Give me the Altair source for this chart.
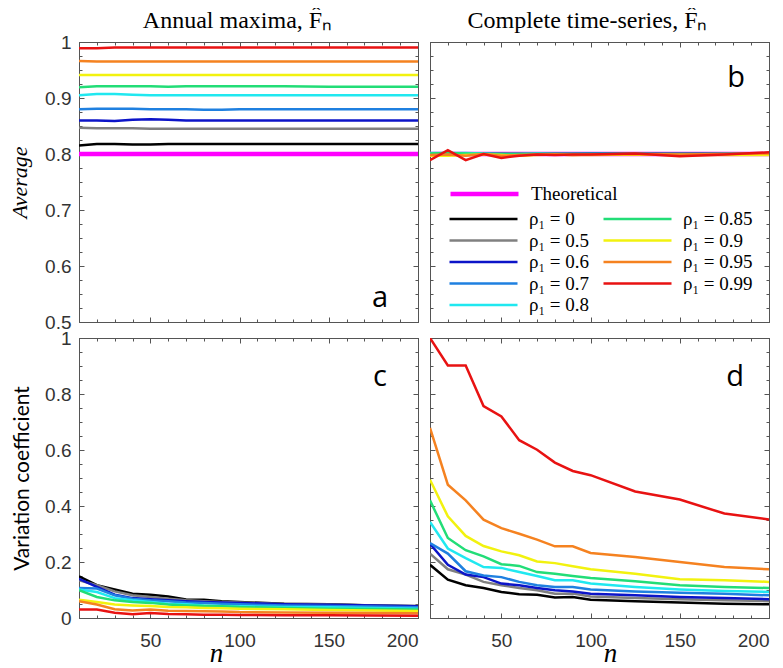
import altair as alt
import pandas as pd

# ---------------- data ----------------
n_values = [10, 20, 30, 40, 50, 60, 70, 80, 90, 100, 125, 150, 175, 200]

series_names = ["Theoretical", "ρ₁ = 0", "ρ₁ = 0.5", "ρ₁ = 0.6", "ρ₁ = 0.7",
                "ρ₁ = 0.8", "ρ₁ = 0.85", "ρ₁ = 0.9", "ρ₁ = 0.95", "ρ₁ = 0.99"]
series_colors = ["#ff00ff", "#000000", "#808080", "#0c14c8", "#1f80e0",
                 "#20e8f0", "#22dd77", "#f2f20f", "#f58220", "#e81212"]

column_titles = ["Annual maxima, F̂ₙ", "Complete time-series, F̂ₙ"]
panel_letters = ["a", "b", "c", "d"]

# (a) Annual maxima, average
avg_annual = [
    [0.800, 0.800, 0.800, 0.800, 0.800, 0.800, 0.800, 0.800, 0.800, 0.800, 0.800, 0.800, 0.800, 0.800],
    [0.815, 0.818, 0.818, 0.817, 0.817, 0.818, 0.818, 0.818, 0.818, 0.818, 0.818, 0.818, 0.818, 0.818],
    [0.847, 0.846, 0.846, 0.846, 0.845, 0.845, 0.845, 0.845, 0.845, 0.845, 0.845, 0.845, 0.845, 0.845],
    [0.860, 0.860, 0.859, 0.861, 0.862, 0.861, 0.860, 0.860, 0.860, 0.860, 0.860, 0.860, 0.860, 0.860],
    [0.880, 0.881, 0.881, 0.881, 0.880, 0.880, 0.880, 0.879, 0.879, 0.880, 0.880, 0.880, 0.880, 0.880],
    [0.905, 0.907, 0.907, 0.906, 0.905, 0.905, 0.905, 0.905, 0.905, 0.905, 0.905, 0.905, 0.905, 0.905],
    [0.919, 0.921, 0.921, 0.921, 0.921, 0.920, 0.921, 0.921, 0.921, 0.921, 0.921, 0.920, 0.920, 0.920],
    [0.941, 0.941, 0.941, 0.941, 0.941, 0.941, 0.941, 0.941, 0.941, 0.941, 0.941, 0.941, 0.941, 0.941],
    [0.966, 0.965, 0.965, 0.965, 0.965, 0.965, 0.965, 0.965, 0.965, 0.965, 0.965, 0.965, 0.965, 0.965],
    [0.989, 0.989, 0.990, 0.990, 0.990, 0.990, 0.990, 0.990, 0.990, 0.990, 0.990, 0.990, 0.990, 0.990],
]

# (b) Complete time-series, average
avg_complete = [
    [0.800, 0.800, 0.800, 0.800, 0.800, 0.800, 0.800, 0.800, 0.800, 0.800, 0.800, 0.800, 0.800, 0.800],
    [0.800, 0.800, 0.799, 0.800, 0.800, 0.800, 0.800, 0.800, 0.800, 0.800, 0.800, 0.800, 0.800, 0.800],
    [0.801, 0.800, 0.800, 0.799, 0.800, 0.800, 0.800, 0.800, 0.799, 0.800, 0.800, 0.800, 0.800, 0.800],
    [0.800, 0.801, 0.800, 0.801, 0.800, 0.799, 0.800, 0.800, 0.800, 0.801, 0.800, 0.800, 0.800, 0.800],
    [0.801, 0.800, 0.801, 0.800, 0.799, 0.800, 0.800, 0.800, 0.800, 0.800, 0.800, 0.800, 0.800, 0.800],
    [0.802, 0.802, 0.802, 0.801, 0.800, 0.800, 0.801, 0.800, 0.800, 0.800, 0.800, 0.799, 0.800, 0.800],
    [0.801, 0.802, 0.801, 0.800, 0.800, 0.800, 0.800, 0.800, 0.800, 0.800, 0.800, 0.800, 0.800, 0.800],
    [0.797, 0.797, 0.798, 0.799, 0.798, 0.797, 0.798, 0.799, 0.798, 0.798, 0.799, 0.798, 0.798, 0.798],
    [0.798, 0.799, 0.797, 0.800, 0.797, 0.798, 0.799, 0.799, 0.798, 0.799, 0.800, 0.799, 0.800, 0.801],
    [0.789, 0.807, 0.789, 0.800, 0.793, 0.797, 0.799, 0.798, 0.799, 0.799, 0.801, 0.796, 0.799, 0.803],
]

# (c) Annual maxima, variation coefficient (rho series only)
cv_annual = [
    [0.149, 0.117, 0.102, 0.087, 0.083, 0.077, 0.066, 0.065, 0.060, 0.057, 0.051, 0.049, 0.045, 0.042],
    [0.135, 0.117, 0.095, 0.081, 0.075, 0.069, 0.063, 0.060, 0.057, 0.055, 0.050, 0.048, 0.045, 0.043],
    [0.140, 0.111, 0.083, 0.071, 0.067, 0.063, 0.060, 0.057, 0.055, 0.054, 0.049, 0.047, 0.045, 0.042],
    [0.107, 0.105, 0.081, 0.069, 0.063, 0.060, 0.055, 0.054, 0.051, 0.049, 0.045, 0.043, 0.041, 0.038],
    [0.102, 0.093, 0.071, 0.063, 0.057, 0.051, 0.049, 0.045, 0.043, 0.042, 0.039, 0.038, 0.036, 0.033],
    [0.099, 0.075, 0.063, 0.057, 0.054, 0.048, 0.045, 0.043, 0.042, 0.039, 0.036, 0.033, 0.032, 0.030],
    [0.065, 0.057, 0.048, 0.045, 0.043, 0.039, 0.038, 0.036, 0.035, 0.033, 0.031, 0.029, 0.027, 0.025],
    [0.060, 0.048, 0.031, 0.027, 0.030, 0.026, 0.025, 0.024, 0.023, 0.021, 0.020, 0.019, 0.018, 0.017],
    [0.030, 0.030, 0.019, 0.013, 0.018, 0.014, 0.013, 0.012, 0.012, 0.011, 0.010, 0.010, 0.009, 0.008],
]

# (d) Complete time-series, variation coefficient
cv_complete = [
    [0.190, 0.137, 0.117, 0.107, 0.093, 0.085, 0.083, 0.073, 0.075, 0.065, 0.060, 0.055, 0.051, 0.049],
    [0.230, 0.174, 0.155, 0.129, 0.117, 0.107, 0.099, 0.087, 0.087, 0.077, 0.071, 0.067, 0.063, 0.060],
    [0.265, 0.190, 0.155, 0.146, 0.123, 0.117, 0.107, 0.099, 0.095, 0.087, 0.081, 0.075, 0.071, 0.067],
    [0.268, 0.230, 0.167, 0.152, 0.146, 0.129, 0.117, 0.111, 0.111, 0.102, 0.095, 0.090, 0.087, 0.081],
    [0.343, 0.248, 0.214, 0.182, 0.179, 0.164, 0.150, 0.135, 0.135, 0.123, 0.111, 0.102, 0.096, 0.093],
    [0.420, 0.286, 0.242, 0.220, 0.192, 0.186, 0.164, 0.158, 0.150, 0.143, 0.131, 0.117, 0.111, 0.107],
    [0.494, 0.363, 0.293, 0.257, 0.238, 0.224, 0.202, 0.196, 0.185, 0.174, 0.158, 0.138, 0.135, 0.129],
    [0.679, 0.476, 0.420, 0.351, 0.321, 0.301, 0.280, 0.256, 0.256, 0.232, 0.218, 0.200, 0.182, 0.174],
    [1.000, 0.902, 0.902, 0.757, 0.720, 0.635, 0.601, 0.555, 0.525, 0.510, 0.452, 0.423, 0.373, 0.352],
]

legend_order = ["ρ₁ = 0", "ρ₁ = 0.5", "ρ₁ = 0.6", "ρ₁ = 0.7", "ρ₁ = 0.8",
                "ρ₁ = 0.85", "ρ₁ = 0.9", "ρ₁ = 0.95", "ρ₁ = 0.99"]


def to_frame(rows, names):
    recs = []
    for name, vals in zip(names, rows):
        kind = "Theoretical" if name == "Theoretical" else "Simulated"
        for n, v in zip(n_values, vals):
            recs.append({"series": name, "kind": kind, "n": n, "v": v})
    return pd.DataFrame(recs)


df_a = to_frame(avg_annual, series_names)
df_b = to_frame(avg_complete, series_names)
df_c = to_frame(cv_annual, series_names[1:])
df_d = to_frame(cv_complete, series_names[1:])

# ---------------- styling ----------------
W, H = 339, 280
TICK = "#555555"
MAJ, MIN = 5, 3
x_major = [50, 100, 150, 200]
x_minor = list(range(10, 201, 10))


def axis(orient, values, size, labels=False, fmt=None, title=None, pad=8,
         title_kw=None):
    p = dict(orient=orient, values=values, tickSize=size, offset=-size,
             domain=False, grid=False, ticks=True, tickColor=TICK,
             tickWidth=1, labels=labels, title=title)
    if labels:
        p.update(labelFont="Liberation Sans", labelFontSize=19,
                 labelColor="#333333", labelPadding=pad, labelOverlap=False)
        if fmt:
            p["format"] = fmt
    if title_kw:
        p.update(title_kw)
    return alt.Axis(**p)


def panel(df, ydom, ymaj, ymin, xlabels, ylabels, letter, lx, ly,
          ytitle=None, ytitle_kw=None, col_title=None, title_x=0,
          legend=False, ntitle_x=170):
    xs = alt.Scale(domain=[10, 200], nice=False, zero=False)
    ys = alt.Scale(domain=ydom, nice=False, zero=False)
    base = alt.Chart(df)

    xt = "n" if xlabels else None
    xkw = dict(titleFont="Liberation Serif", titleFontStyle="italic",
               titleFontSize=27, titleFontWeight="normal", titleColor="black",
               titleBaseline="alphabetic", titleAlign="center",
               titleX=ntitle_x, titleY=48) if xlabels else None

    if legend:
        col_legend = alt.Legend(
            values=legend_order, columns=2, orient="none", legendX=18,
            legendY=167, symbolType="stroke", symbolSize=4624,
            symbolStrokeWidth=2.5, labelFont="Liberation Serif",
            labelFontSize=19, labelColor="black", labelOffset=10,
            clipHeight=20, rowPadding=1.5, columnPadding=12, padding=0,
            title=None)
        sw_legend = alt.Legend(
            values=["Theoretical"], orient="none", legendX=18, legendY=142,
            symbolType="stroke", symbolSize=4624, symbolStrokeColor="#ff00ff",
            labelFont="Liberation Serif", labelFontSize=19,
            labelColor="black", labelOffset=10, clipHeight=20, padding=0,
            title=None)
    else:
        col_legend = None
        sw_legend = None

    lines = base.mark_line(clip=True).encode(
        x=alt.X("n:Q", scale=xs,
                axis=axis("bottom", x_major, MAJ, labels=xlabels, title=xt,
                          pad=13, title_kw=xkw)),
        y=alt.Y("v:Q", scale=ys,
                axis=axis("left", ymaj, MAJ, labels=ylabels, fmt=".1~f",
                          title=ytitle, pad=8, title_kw=ytitle_kw)),
        color=alt.Color("series:N",
                        scale=alt.Scale(domain=series_names, range=series_colors),
                        legend=col_legend),
        strokeWidth=alt.StrokeWidth(
            "kind:N",
            scale=alt.Scale(type="point", domain=["Theoretical", "Simulated"],
                            range=[4.5, 2.5], padding=0),
            legend=sw_legend),
    )
    minor = base.mark_line(strokeOpacity=0).encode(
        x=alt.X("n:Q", scale=xs, axis=axis("bottom", x_minor, MIN)),
        y=alt.Y("v:Q", scale=ys, axis=axis("left", ymin, MIN)),
        detail="series:N",
    )
    opp_major = base.mark_line(strokeOpacity=0).encode(
        x=alt.X("n:Q", scale=xs, axis=axis("top", x_major, MAJ)),
        y=alt.Y("v:Q", scale=ys, axis=axis("right", ymaj, MAJ)),
        detail="series:N",
    )
    opp_minor = base.mark_line(strokeOpacity=0).encode(
        x=alt.X("n:Q", scale=xs, axis=axis("top", x_minor, MIN)),
        y=alt.Y("v:Q", scale=ys, axis=axis("right", ymin, MIN)),
        detail="series:N",
    )
    txt = alt.Chart(pd.DataFrame({"t": [letter]})).mark_text(
        font="Open Sans", fontSize=29, align="center", baseline="alphabetic",
        color="black").encode(text="t:N", x=alt.value(lx), y=alt.value(ly))

    layers = [minor, opp_major, opp_minor, lines, txt]
    if col_title:
        ttl = alt.Chart(pd.DataFrame({"t": [col_title]})).mark_text(
            font="Liberation Serif", fontSize=24, align="center",
            baseline="alphabetic", color="black").encode(
            text="t:N", x=alt.value(title_x), y=alt.value(-14))
        layers.append(ttl)

    return alt.layer(*layers).resolve_axis(
        x="independent", y="independent").properties(width=W, height=H)


y_avg_major = [0.5, 0.6, 0.7, 0.8, 0.9, 1.0]
y_avg_minor = [round(0.5 + 0.025 * i, 3) for i in range(21)]
y_cv_major = [0.0, 0.2, 0.4, 0.6, 0.8, 1.0]
y_cv_minor = [round(0.05 * i, 3) for i in range(21)]

avg_kw = dict(titleFont="Liberation Serif", titleFontStyle="italic",
              titleFontSize=22, titleFontWeight="normal", titleColor="black",
              titlePadding=13)
cv_kw = dict(titleFont="Lato", titleFontSize=21, titleFontWeight="normal",
             titleColor="black", titlePadding=12)

pa = panel(df_a, [0.5, 1.0], y_avg_major, y_avg_minor, False, True,
           panel_letters[0], W - 38, H - 15, ytitle="Average",
           ytitle_kw=avg_kw, col_title=column_titles[0], title_x=W / 2 - 11)
pb = panel(df_b, [0.5, 1.0], y_avg_major, y_avg_minor, False, False,
           panel_letters[1], W - 33, 45, col_title=column_titles[1],
           title_x=W / 2 - 12, legend=True)
pc = panel(df_c, [0.0, 1.0], y_cv_major, y_cv_minor, True, True,
           panel_letters[2], W - 38, 48, ytitle="Variation coefficient",
           ytitle_kw=cv_kw, ntitle_x=137)
pd_ = panel(df_d, [0.0, 1.0], y_cv_major, y_cv_minor, True, False,
            panel_letters[3], W - 34, 48, ntitle_x=180)

chart = alt.concat(
    pa, pb, pc, pd_, columns=2,
    spacing=alt.RowColnumber(row=16, column=12), bounds="flush"
).resolve_scale(color="independent", strokeWidth="independent").configure_view(
    stroke="#555555", strokeWidth=1
).properties(padding={"left": 0, "top": 0, "right": 0, "bottom": 0})

chart.save("out.html", embed_options={"renderer": "svg", "actions": False})
